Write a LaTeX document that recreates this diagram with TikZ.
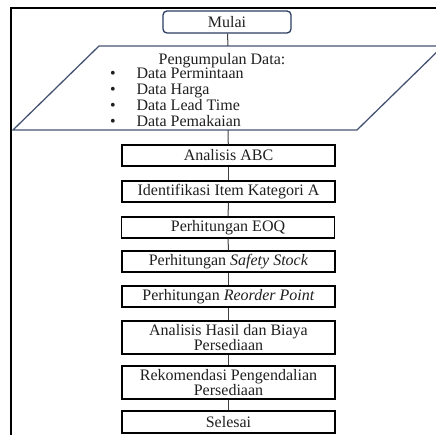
\documentclass[tikz,border=0pt]{standalone}
\usepackage{fontspec}
\setmainfont{Liberation Serif}
\definecolor{slate}{rgb}{0.27,0.33,0.45}
\definecolor{navy}{rgb}{0.17,0.24,0.38}
\definecolor{ink}{rgb}{0.12,0.12,0.12}
\begin{document}
\begin{tikzpicture}[x=1pt,y=-1pt,
  txt/.style={font=\fontsize{16}{15.5}\selectfont, text=ink},
  box/.style={txt, draw=black, line width=1.3pt, minimum width=213pt, minimum height=21pt, align=center, inner sep=0pt},
  tallbox/.style={box, minimum height=33pt},
  conn/.style={draw=black!75, line width=1pt}]
\useasboundingbox (0,0) rectangle (436,435);
% outer frame (cropped)
\draw[line width=2pt] (11,436) -- (11,8) -- (437,8);
% start
\node[txt, draw=navy, line width=1.3pt, rounded corners=4pt, minimum width=128pt, minimum height=22pt, inner sep=0pt] (mulai) at (227,22) {Mulai};
% data input parallelogram
\draw[draw=slate, line width=1.3pt] (99,46) -- (443,46) -- (357,130) -- (13,130) -- cycle;
\coordinate (pt) at (228,46);
\coordinate (pb) at (228,130);
\node[txt, anchor=base] (head) at (222,64.5) {Pengumpulan Data:};
\node[txt, anchor=base west] (d1) at (133,78.5) {Data Permintaan};
\node[txt, anchor=base west] (d2) at (133,94.5) {Data Harga};
\node[txt, anchor=base west] (d3) at (133,110.5) {Data Lead Time};
\node[txt, anchor=base west] (d4) at (133,126.5) {Data Pemakaian};
\foreach \n in {d1,d2,d3,d4}{\node[txt, anchor=base] at ([xshift=-20pt]\n.base west) {•};}
% process boxes
\node[box] (abc) at (228.5,155.5) {Analisis ABC};
\node[box] (ident) at (228.5,191.5) {Identifikasi Item Kategori A};
\node[box] (eoq) at (228,227.5) {Perhitungan EOQ};
\node[box] (safety) at (228.5,261.5) {Perhitungan \textit{Safety Stock}};
\node[box] (reorder) at (228.5,296.5) {Perhitungan \textit{Reorder Point}};
\node[tallbox] (hasil) at (228.5,337.5) {Analisis Hasil dan Biaya\\Persediaan};
\node[tallbox] (rekom) at (228.5,382.5) {Rekomendasi Pengendalian\\Persediaan};
\node[box, minimum height=22pt] (selesai) at (228.5,422) {Selesai};
% connectors
\draw[conn] (mulai) -- (pt);
\draw[conn] (pb) -- (abc);
\draw[conn] (abc) -- (ident);
\draw[conn] (ident) -- (eoq);
\draw[conn] (eoq) -- (safety);
\draw[conn] (safety) -- (reorder);
\draw[conn] (reorder) -- (hasil);
\draw[conn] (hasil) -- (rekom);
\draw[conn] (rekom) -- (selesai);
\end{tikzpicture}
\end{document}
